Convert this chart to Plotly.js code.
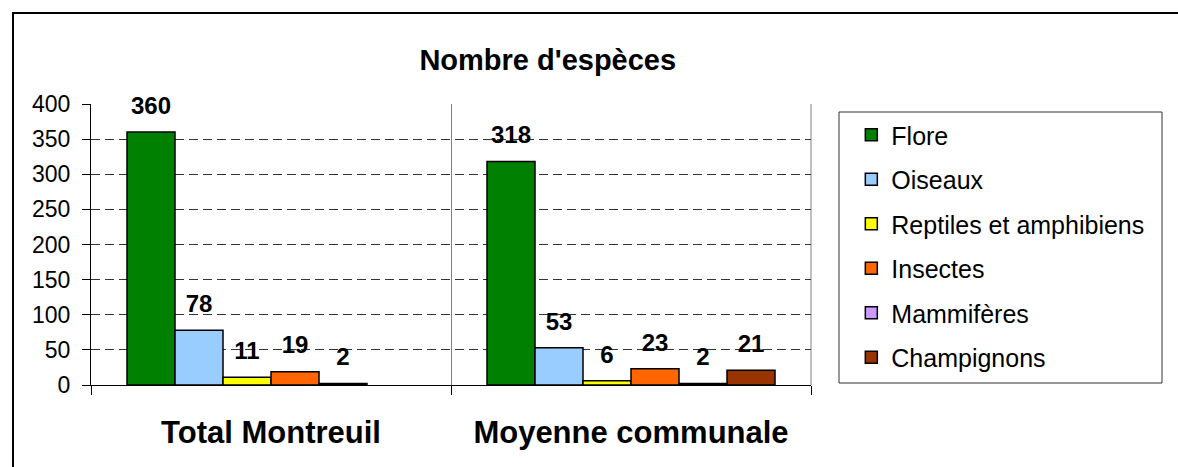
<!DOCTYPE html>
<html>
<head>
<meta charset="utf-8">
<script src="https://cdn.plot.ly/plotly-3.0.1.min.js"></script>
<style>
  html, body { margin: 0; background: #fff; overflow: hidden; }
  #wrap { position: relative; width: 1178px; height: 467px; overflow: hidden; }
  #chart { width: 1178px; height: 467px; }
  /* outer chart frame: only its left and top edges are in view */
  .edge { position: absolute; background: #000; pointer-events: none; }
  #edgeTop { left: 12px; top: 12px; width: 1166px; height: 1.5px; }
  #edgeLeft { left: 12px; top: 12px; width: 1.5px; height: 455px; }
</style>
</head>
<body>
<div id="wrap">
  <div id="chart"></div>
  <div class="edge" id="edgeTop"></div>
  <div class="edge" id="edgeLeft"></div>
</div>
<script>
// categories on the x axis
var categories = ["Total Montreuil", "Moyenne communale"];

// one series per group of species
var seriesNames = ["Flore", "Oiseaux", "Reptiles et amphibiens", "Insectes", "Mammifères", "Champignons"];
var flore = [360, 318];
var oiseaux = [78, 53];
var reptiles = [11, 6];
var insectes = [19, 23];
var mammiferes = [2, 2];
var champignons = [null, 21];

var seriesValues = [flore, oiseaux, reptiles, insectes, mammiferes, champignons];
var seriesColors = ["#008000", "#99CCFF", "#FFFF00", "#FF6600", "#CC99FF", "#993300"];

var yTicks = [0, 50, 100, 150, 200, 250, 300, 350, 400];

var font = "Liberation Sans, Arial, sans-serif";

var data = [];

// bars
seriesNames.forEach(function(name, i) {
  data.push({
    type: "bar",
    name: name,
    legendgroup: name,
    x: categories,
    y: seriesValues[i],
    marker: { color: seriesColors[i], line: { color: "#000", width: 1.5 } },
    hoverinfo: "x+y+name"
  });
});

// value labels, grouped the same way as the bars
seriesNames.forEach(function(name, i) {
  data.push({
    type: "scatter",
    mode: "markers+text",
    x: categories,
    y: seriesValues[i],
    text: seriesValues[i].map(function(v) { return v === null ? "" : String(v); }),
    textposition: "top center",
    textfont: { family: font, size: 24, color: "#000", weight: "bold" },
    marker: { size: 18, opacity: 0 },
    showlegend: false,
    hoverinfo: "skip",
    cliponaxis: false
  });
});

var layout = {
  width: 1178,
  height: 467,
  margin: { l: 91, r: 367, t: 104, b: 82, autoexpand: false },
  paper_bgcolor: "#fff",
  plot_bgcolor: "#fff",
  font: { family: font, color: "#000" },
  barmode: "group",
  bargap: 0.2,
  bargroupgap: 0,
  scattermode: "group",
  scattergap: 0.2,
  title: {
    text: "<b>Nombre d'espèces</b>",
    font: { family: font, size: 29, color: "#000" },
    xref: "container",
    yref: "container",
    x: 0.465,
    y: 0.871,
    xanchor: "center",
    yanchor: "middle"
  },
  xaxis: {
    type: "category",
    tickson: "boundaries",
    ticks: "outside",
    ticklen: 9,
    tickcolor: "#000",
    showgrid: true,
    gridcolor: "#808080",
    gridwidth: 1,
    showline: true,
    linecolor: "#000",
    linewidth: 1,
    ticklabelstandoff: 20,
    tickfont: { family: font, size: 31, color: "#000", weight: "bold" },
    zeroline: false,
    fixedrange: true
  },
  yaxis: {
    range: [0, 400],
    tickvals: yTicks,
    ticktext: yTicks.map(String),
    ticks: "outside",
    ticklen: 8,
    tickcolor: "#000",
    showline: true,
    linecolor: "#000",
    linewidth: 1,
    showgrid: true,
    gridcolor: "#333",
    gridwidth: 1,
    griddash: "9px,5px",
    zeroline: false,
    ticklabelstandoff: 7,
    tickfont: { family: font, size: 23, color: "#000" },
    fixedrange: true
  },
  legend: {
    x: 1.056,
    y: 0.9715,
    xanchor: "left",
    yanchor: "top",
    bgcolor: "rgba(0,0,0,0)",
    borderwidth: 0,
    traceorder: "grouped",
    tracegroupgap: 9,
    font: { family: font, size: 25, color: "#000" }
  },
  shapes: [
    // right edge of the plot area
    {
      type: "line", xref: "paper", yref: "paper",
      x0: 1, x1: 1, y0: 0, y1: 1,
      line: { color: "#808080", width: 1 }, layer: "below"
    },
    // legend frame
    {
      type: "rect", xref: "paper", yref: "paper",
      x0: 1.0389, x1: 1.4875, y0: 0.0071, y1: 0.9715,
      line: { color: "#333", width: 1 },
      fillcolor: "#fff", layer: "below"
    }
  ],
  showlegend: true
};

Plotly.newPlot("chart", data, layout, { displayModeBar: false, staticPlot: true });
</script>
</body>
</html>
